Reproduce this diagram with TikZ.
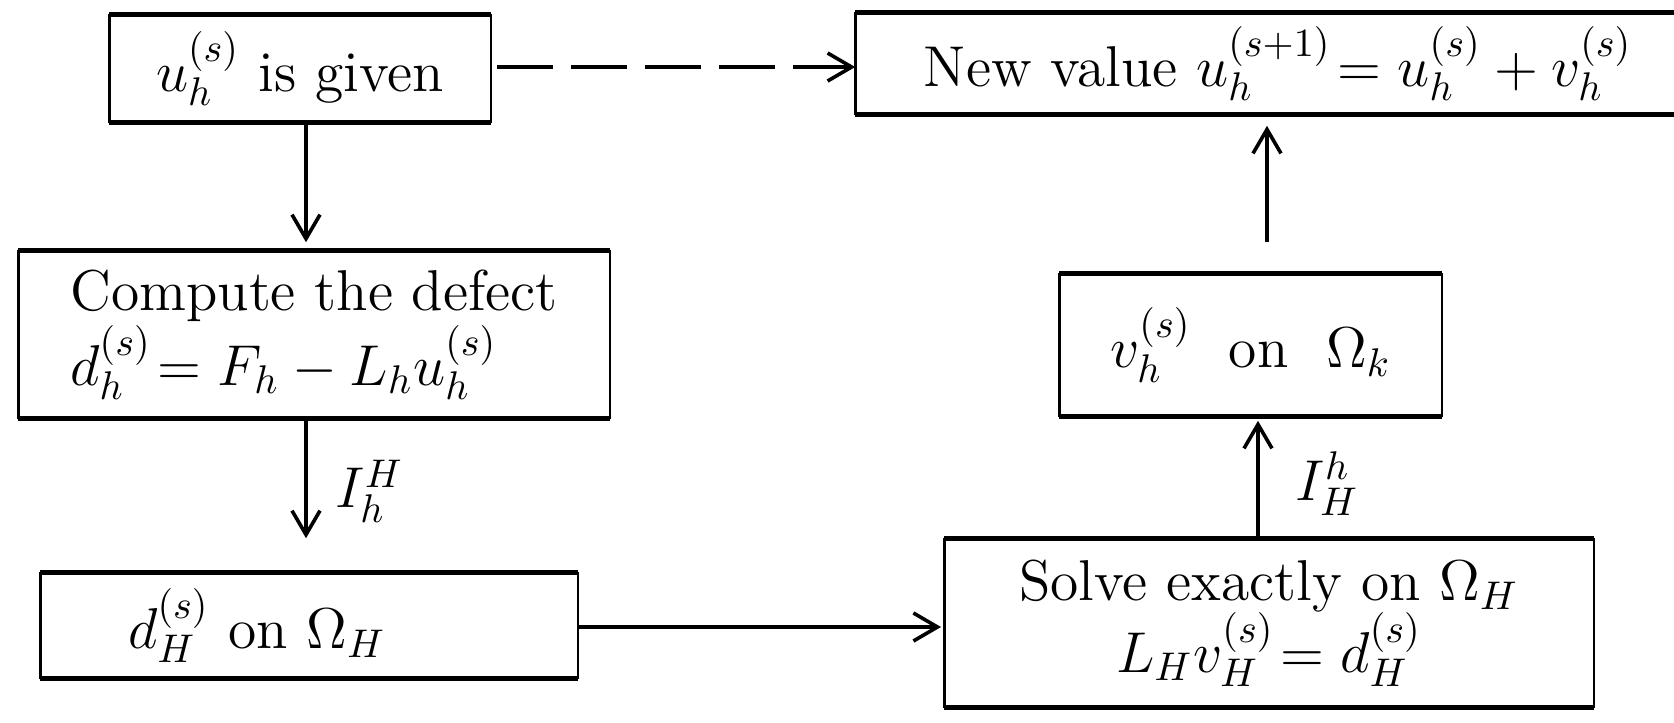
\documentclass[tikz,border=0pt]{standalone}
\usetikzlibrary{arrows.meta,calc}
\begin{document}
\begin{tikzpicture}[x=0.25pt,y=-0.25pt,
  box/.style={inner sep=0pt, font=\fontsize{14.4}{16}\selectfont},
  sz/.style 2 args={minimum width=#1*0.25pt, minimum height=#2*0.25pt},
  side/.style={line width=0.65pt},
  tb/.style={line width=1.3pt},
  arr/.style={line width=0.8pt, -{Straight Barb[length=6pt,width=7pt,line width=0.9pt]}},
  dsh/.style={dash pattern=on 14pt off 4.5pt},
  lbl/.style={font=\fontsize{14.4}{16}\selectfont, inner sep=0pt}]
\useasboundingbox (0,0) rectangle (1674,722);
\fill[white] (0,0) rectangle (1674,722);
% boxes
\node[box, sz={380}{107}] (A) at (300,68.5) {$u_h^{(s)}$ is given};
\node[box, sz={844}{101}] (B) at (1278,63.5) {New value $u_h^{(s+1)}\!=u_h^{(s)}+v_h^{(s)}$};
\node[box, sz={590}{167}, align=left] (C) at (314,334.5) {Compute the defect\\ $d_h^{(s)}\!=F_h-L_hu_h^{(s)}$};
\node[box, sz={536}{105}] (D) at (309,625.5) {$d_H^{(s)}$ on $\Omega_H$\hspace*{26pt}};
\node[box, sz={648}{168}, align=center] (E) at (1269,623) {Solve exactly on $\Omega_H$\\[-1pt] $L_Hv_H^{(s)}\!=d_H^{(s)}$};
\node[box, sz={381}{142}] (F) at (1250.5,345) {$v_h^{(s)}$\ \ on\ \ $\Omega_k$};
\foreach \n in {A,B,C,D,E,F} {
  \draw[side] (\n.north west) -- (\n.south west) (\n.north east) -- (\n.south east);
  \draw[tb] (\n.north west) -- (\n.north east) (\n.south west) -- (\n.south east);
}
% reference coordinates for connector positions
\coordinate (xl) at (306,0);
\coordinate (xm) at (1258,0);
\coordinate (xr) at (1267,0);
\coordinate (yt) at (0,67);
\coordinate (yb) at (0,627);
% connectors
\draw[arr, dsh, shorten <=1.5pt] (A.east |- yt) -- (B.west |- yt);
\draw[arr, shorten >=2pt] (A.south -| xl) -- (C.north -| xl);
\draw[arr, shorten >=8.5pt] (C.south -| xl) -- (D.north -| xl)
  node[lbl, pos=0.47, right=7pt] (l1) {$I_h^H$};
\draw[arr, shorten >=0.8pt] (D.east |- yb) -- (E.west |- yb);
\draw[arr, shorten >=1pt] (E.north -| xm) -- (F.south -| xm)
  node[lbl, pos=0.45, right=9pt] (l2) {$I_H^h$};
\draw[arr, shorten <=7.75pt, shorten >=2.75pt] (F.north -| xr) -- (B.south -| xr);
\end{tikzpicture}
\end{document}
